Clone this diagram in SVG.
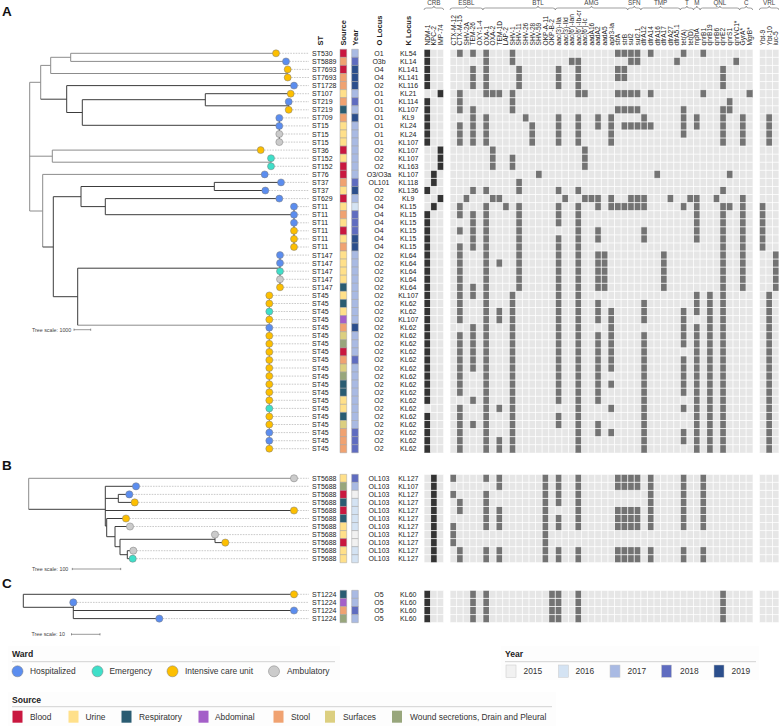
<svg xmlns="http://www.w3.org/2000/svg" width="779" height="727" viewBox="0 0 779 727">
<style>
text{font-family:"Liberation Sans",Arial,sans-serif;fill:#222}
.lab{font-size:7px}
.mid{text-anchor:middle}
.hd{font-size:7.5px;font-weight:bold}
.gn{font-size:6.6px;fill:#333}
.grp{font-size:6.3px;fill:#444;text-anchor:middle}
.pl{font-size:13.5px;font-weight:bold;fill:#111}
.sc{font-size:5.3px;fill:#444}
.lg{font-size:8.4px;fill:#333}
.lgh{font-size:8.6px;font-weight:bold;fill:#222}
.br{fill:none;stroke:#777;stroke-width:0.7}
.tg{fill:none;stroke:#8c8c8c;stroke-width:1}
.td{fill:none;stroke:#3c3c3c;stroke-width:1}
.ld{fill:none;stroke:#b3b3b3;stroke-width:0.7;stroke-dasharray:1.6 1.1}
.sbar{fill:none;stroke:#555;stroke-width:0.6}
.H{fill:#5b8def}.E{fill:#3fdfc9}.I{fill:#fdbf00}.A{fill:#cbcbcb}
.tip circle,.lgc{stroke:#7d7d7d;stroke-width:0.5}
.bg{fill:#e6e6e6}.on{fill:#737373}.dk{fill:#333}
.gr{fill:none;stroke:#fff;stroke-width:0.8;vector-effect:non-scaling-stroke}
.bl{fill:#c9173f}.ur{fill:#ffe08a}.rs{fill:#2a5c72}.ab{fill:#a45fc8}.st{fill:#f0a271}.sf{fill:#dccf80}.wd{fill:#98a67c}
.y5{fill:#f1f1f1}.y6{fill:#d4e3f3}.y7{fill:#a9bae3}.y8{fill:#5f6cc0}.y9{fill:#2b4e8c}
.cell rect{stroke:#a3a3a3;stroke-width:0.5;vector-effect:non-scaling-stroke}
.lgb{stroke:#c8c8c8;stroke-width:0.5}
.rule{stroke:#d2d2d2;stroke-width:1}
.lbg{fill:#fdfdfd}
</style>
<defs>
<path id="gA3" class="gr" d="M0 0v50m1-50v50m1-50v50m1-50v50M0 0h3m-3 1h3m-3 1h3m-3 1h3m-3 1h3m-3 1h3m-3 1h3m-3 1h3m-3 1h3m-3 1h3m-3 1h3m-3 1h3m-3 1h3m-3 1h3m-3 1h3m-3 1h3m-3 1h3m-3 1h3m-3 1h3m-3 1h3m-3 1h3m-3 1h3m-3 1h3m-3 1h3m-3 1h3m-3 1h3m-3 1h3m-3 1h3m-3 1h3m-3 1h3m-3 1h3m-3 1h3m-3 1h3m-3 1h3m-3 1h3m-3 1h3m-3 1h3m-3 1h3m-3 1h3m-3 1h3m-3 1h3m-3 1h3m-3 1h3m-3 1h3m-3 1h3m-3 1h3m-3 1h3m-3 1h3m-3 1h3m-3 1h3"/>
<path id="gA46" class="gr" d="M0 0v50m1-50v50m1-50v50m1-50v50m1-50v50m1-50v50m1-50v50m1-50v50m1-50v50m1-50v50m1-50v50m1-50v50m1-50v50m1-50v50m1-50v50m1-50v50m1-50v50m1-50v50m1-50v50m1-50v50m1-50v50m1-50v50m1-50v50m1-50v50m1-50v50m1-50v50m1-50v50m1-50v50m1-50v50m1-50v50m1-50v50m1-50v50m1-50v50m1-50v50m1-50v50m1-50v50m1-50v50m1-50v50m1-50v50m1-50v50m1-50v50m1-50v50m1-50v50m1-50v50m1-50v50m1-50v50M0 0h46m-46 1h46m-46 1h46m-46 1h46m-46 1h46m-46 1h46m-46 1h46m-46 1h46m-46 1h46m-46 1h46m-46 1h46m-46 1h46m-46 1h46m-46 1h46m-46 1h46m-46 1h46m-46 1h46m-46 1h46m-46 1h46m-46 1h46m-46 1h46m-46 1h46m-46 1h46m-46 1h46m-46 1h46m-46 1h46m-46 1h46m-46 1h46m-46 1h46m-46 1h46m-46 1h46m-46 1h46m-46 1h46m-46 1h46m-46 1h46m-46 1h46m-46 1h46m-46 1h46m-46 1h46m-46 1h46m-46 1h46m-46 1h46m-46 1h46m-46 1h46m-46 1h46m-46 1h46m-46 1h46m-46 1h46m-46 1h46m-46 1h46"/>
<path id="gB3" class="gr" d="M0 0v11m1-11v11m1-11v11m1-11v11M0 0h3m-3 1h3m-3 1h3m-3 1h3m-3 1h3m-3 1h3m-3 1h3m-3 1h3m-3 1h3m-3 1h3m-3 1h3m-3 1h3"/>
<path id="gB46" class="gr" d="M0 0v11m1-11v11m1-11v11m1-11v11m1-11v11m1-11v11m1-11v11m1-11v11m1-11v11m1-11v11m1-11v11m1-11v11m1-11v11m1-11v11m1-11v11m1-11v11m1-11v11m1-11v11m1-11v11m1-11v11m1-11v11m1-11v11m1-11v11m1-11v11m1-11v11m1-11v11m1-11v11m1-11v11m1-11v11m1-11v11m1-11v11m1-11v11m1-11v11m1-11v11m1-11v11m1-11v11m1-11v11m1-11v11m1-11v11m1-11v11m1-11v11m1-11v11m1-11v11m1-11v11m1-11v11m1-11v11M0 0h46m-46 1h46m-46 1h46m-46 1h46m-46 1h46m-46 1h46m-46 1h46m-46 1h46m-46 1h46m-46 1h46m-46 1h46m-46 1h46"/>
<path id="gC3" class="gr" d="M0 0v4m1-4v4m1-4v4m1-4v4M0 0h3m-3 1h3m-3 1h3m-3 1h3m-3 1h3"/>
<path id="gC46" class="gr" d="M0 0v4m1-4v4m1-4v4m1-4v4m1-4v4m1-4v4m1-4v4m1-4v4m1-4v4m1-4v4m1-4v4m1-4v4m1-4v4m1-4v4m1-4v4m1-4v4m1-4v4m1-4v4m1-4v4m1-4v4m1-4v4m1-4v4m1-4v4m1-4v4m1-4v4m1-4v4m1-4v4m1-4v4m1-4v4m1-4v4m1-4v4m1-4v4m1-4v4m1-4v4m1-4v4m1-4v4m1-4v4m1-4v4m1-4v4m1-4v4m1-4v4m1-4v4m1-4v4m1-4v4m1-4v4m1-4v4M0 0h46m-46 1h46m-46 1h46m-46 1h46m-46 1h46"/>
</defs>
<rect width="779" height="727" fill="#fff"/>

<g id="panel-labels">
<text class="pl" x="2" y="15.5">A</text>
<text class="pl" x="2" y="470">B</text>
<text class="pl" x="2" y="588.3">C</text>
</g>

<g id="column-headers">
<text class="hd" transform="translate(322.5,45.5) rotate(-90)">ST</text>
<text class="hd" transform="translate(346,45.5) rotate(-90)">Source</text>
<text class="hd" transform="translate(357.6,45.5) rotate(-90)">Year</text>
<text class="hd" transform="translate(382,45.5) rotate(-90)">O Locus</text>
<text class="hd" transform="translate(410.5,45.5) rotate(-90)">K Locus</text>
</g>

<g id="gene-groups">
<path class="br" d="M424,10q0,-2 2.5,-2H431.4q2.5,0 2.5,-2q0,2 2.5,2H441.2q2.5,0 2.5,2M450,10q0,-2 2.5,-2H463.9q2.5,0 2.5,-2q0,2 2.5,2H480.4q2.5,0 2.5,2M482.9,10q0,-2 2.5,-2H535.5q2.5,0 2.5,-2q0,2 2.5,2H552.8q2.5,0 2.5,2M555.3,10q0,-2 2.5,-2H589q2.5,0 2.5,-2q0,2 2.5,2H625.2q2.5,0 2.5,2M627.7,10q0,-2 2.5,-2H631.8q2.5,0 2.5,-2q0,2 2.5,2H638.4q2.5,0 2.5,2M640.9,10q0,-2 2.5,-2H658.1q2.5,0 2.5,-2q0,2 2.5,2H677.8q2.5,0 2.5,2M680.3,10q0,-2 2.5,-2H684.4q2.5,0 2.5,-2q0,2 2.5,2H691q2.5,0 2.5,2M693.5,10q0,-2 1.6,-2H695.2q1.6,0 1.6,-2q0,2 1.6,2H698.5q1.6,0 1.6,2M700.1,10q0,-2 2.5,-2H717.4q2.5,0 2.5,-2q0,2 2.5,2H737.1q2.5,0 2.5,2M739.6,10q0,-2 2.5,-2H743.7q2.5,0 2.5,-2q0,2 2.5,2H750.2q2.5,0 2.5,2M759.3,10q0,-2 2.5,-2H766.7q2.5,0 2.5,-2q0,2 2.5,2H776.5q2.5,0 2.5,2"/>
<text class="grp" x="433.9" y="5">CRB</text>
<text class="grp" x="466.4" y="5">ESBL</text>
<text class="grp" x="538" y="5">BTL</text>
<text class="grp" x="591.5" y="5">AMG</text>
<text class="grp" x="634.3" y="5">SFN</text>
<text class="grp" x="660.6" y="5">TMP</text>
<text class="grp" x="686.9" y="5">T</text>
<text class="grp" x="696.8" y="5">M</text>
<text class="grp" x="719.9" y="5">QNL</text>
<text class="grp" x="746.2" y="5">C</text>
<text class="grp" x="769.2" y="5">VRL</text>
</g>

<g id="gene-labels" class="gn" transform="rotate(-90)">
<text x="-45.5" y="429.6">NDM-1</text>
<text x="-45.5" y="436.2">KPC-2</text>
<text x="-45.5" y="442.8">IMP-74</text>
<text x="-45.5" y="455.6">CTX-M-12</text>
<text x="-45.5" y="462.2">CTX-M-15</text>
<text x="-45.5" y="468.8">SHV-2A</text>
<text x="-45.5" y="475.3">TEM-26</text>
<text x="-45.5" y="481.9">OXY-1-4</text>
<text x="-45.5" y="488.5">OXA-1</text>
<text x="-45.5" y="495.1">OXA-2</text>
<text x="-45.5" y="501.7">TEM-1D</text>
<text x="-45.5" y="508.2">LAP-2</text>
<text x="-45.5" y="514.8">SHV-1</text>
<text x="-45.5" y="521.4">SHV-11</text>
<text x="-45.5" y="528">SHV-26</text>
<text x="-45.5" y="534.6">SHV-28</text>
<text x="-45.5" y="541.1">SHV-59</text>
<text x="-45.5" y="547.7">OKP-A-11</text>
<text x="-45.5" y="554.3">OKP-B-2</text>
<text x="-45.5" y="560.9">aac(3)-IIa</text>
<text x="-45.5" y="567.5">aac(3)-IId</text>
<text x="-45.5" y="574">aac(6')-Ian</text>
<text x="-45.5" y="580.6">aac(6')-Ib-cr</text>
<text x="-45.5" y="587.2">aac(6')-Ic</text>
<text x="-45.5" y="593.8">aadA16</text>
<text x="-45.5" y="600.4">aadA2</text>
<text x="-45.5" y="606.9">aadA5</text>
<text x="-45.5" y="613.5">aph3-Ia</text>
<text x="-45.5" y="620.1">strA</text>
<text x="-45.5" y="626.7">strB</text>
<text x="-45.5" y="633.3">sul2</text>
<text x="-45.5" y="639.8">sul2.1</text>
<text x="-45.5" y="646.4">dfrA12</text>
<text x="-45.5" y="653">dfrA14</text>
<text x="-45.5" y="659.6">dfrA16</text>
<text x="-45.5" y="666.2">dfrA17</text>
<text x="-45.5" y="672.7">dfrA27</text>
<text x="-45.5" y="679.3">dfrA5.1</text>
<text x="-45.5" y="685.9">tet(A)</text>
<text x="-45.5" y="692.5">tet(D)</text>
<text x="-45.5" y="699.1">mphA</text>
<text x="-45.5" y="705.6">qnrB1</text>
<text x="-45.5" y="712.2">qnrB19</text>
<text x="-45.5" y="718.8">qnrB6</text>
<text x="-45.5" y="725.4">qnrE2</text>
<text x="-45.5" y="732">qnrS1</text>
<text x="-45.5" y="738.5">qnrVC1*</text>
<text x="-45.5" y="745.1">GyrA*</text>
<text x="-45.5" y="751.7">MgrB*</text>
<text x="-45.5" y="764.9">Ybt-9</text>
<text x="-45.5" y="771.5">Ybt-10</text>
<text x="-45.5" y="778.1">iuc-5</text>
</g>

<g id="connectors">
<path class="tg" d="M29.7,82.3V211M29.7,82.3H40.7M40.7,65.4V99.2M40.7,65.4H50.7M50.7,57.3V73.5M50.7,57.3H70.7M70.7,53.3V61.4M70.7,53.3H276M70.7,61.4H286M50.7,73.5H287.7M287.7,69.4V77.5M29.7,156.2H52.3M52.3,150.1V162.2M52.3,150.1H260.7M52.3,162.2H271M271,158.2V166.3M29.7,211H42.7M42.7,174.4V247M42.7,174.4H264.7M77.7,325.2H269.3M269.3,295.4V448.7"/>
<path class="td" d="M40.7,99.2H66.7M66.7,85.6V112.5M66.7,85.6H294M66.7,112.5H82.3M82.3,99.7V125.3M82.3,99.7H205.3M205.3,93.7V105.8M205.3,93.7H290.7M205.3,105.8H288.7M288.7,101.7V109.8M82.3,125.3H279.3M279.3,117.9V142.1M42.7,247H53.3M53.3,196.7V296.7M53.3,196.7H81M81,186.5V206.6M81,186.5H214.3M214.3,182.4V190.5M214.3,182.4H281M214.3,190.5H265.3M81,206.6H105.3M105.3,198.6V214.7M105.3,198.6H279.3M105.3,214.7H294M294,206.6V247M53.3,296.7H77.7M77.7,268.2V325.2M77.7,268.2H280M280,255.1V287.3"/>
<path class="tg" d="M28.7,478.3V509.3M28.7,478.3H294"/>
<path class="td" d="M28.7,509.3H105.3M105.3,486.3V526M105.3,486.3H136M105.3,498.4H118.3M118.3,494.4V502.4M118.3,494.4H129.3M118.3,502.4H134.7M105.3,510.5H294M105.3,526H106.7M106.7,518.5V536.7M106.7,518.5H126M106.7,536.7H115M115,526.5V546.7M115,526.5H130M115,546.7H120M120,539.3V554.7M120,539.3H215M215,534.6V542.6M215,542.6H225.3M120,554.7H127.3M127.3,550.7V558.7M127.3,550.7H133.3M127.3,558.7H132.7"/>
<path class="td" d="M23.3,594.3V607.3M23.3,594.3H294M23.3,607.3H73.3M73.3,602.4V618.6M73.3,610.5H294M73.3,618.6H159.3"/>
<path class="ld" d="M279.5 53.3H309M289.5 61.4H309M291.2 69.4H309M291.2 77.5H309M297.5 85.6H309M294.2 93.7H309M292.2 101.7H309M292.2 109.8H309M282.8 117.9H309M282.8 125.9H309M282.8 134H309M282.8 142.1H309M264.2 150.1H309M274.5 158.2H309M274.5 166.3H309M268.2 174.4H309M284.5 182.4H309M268.8 190.5H309M282.8 198.6H309M297.5 206.6H309M297.5 214.7H309M297.5 222.8H309M297.5 230.8H309M297.5 238.9H309M297.5 247H309M283.5 255.1H309M283.5 263.1H309M283.5 271.2H309M283.5 279.3H309M283.5 287.3H309M272.8 295.4H309M272.8 303.5H309M272.8 311.5H309M272.8 319.6H309M272.8 327.7H309M272.8 335.8H309M272.8 343.8H309M272.8 351.9H309M272.8 360H309M272.8 368H309M272.8 376.1H309M272.8 384.2H309M272.8 392.2H309M272.8 400.3H309M272.8 408.4H309M272.8 416.5H309M272.8 424.5H309M272.8 432.6H309M272.8 440.7H309M272.8 448.7H309M297.5 478.3H309M139.5 486.3H309M132.8 494.4H309M138.2 502.4H309M297.5 510.5H309M129.5 518.5H309M133.5 526.5H309M218.5 534.6H309M228.8 542.6H309M136.8 550.7H309M136.2 558.7H309M297.5 594.3H309M76.8 602.4H309M297.5 610.5H309M162.8 618.6H309"/>
</g>

<g id="tips" class="tip">
<circle class="I" cx="276" cy="53.3" r="3.5"/>
<circle class="H" cx="286" cy="61.4" r="3.5"/>
<circle class="I" cx="287.7" cy="69.4" r="3.5"/>
<circle class="I" cx="287.7" cy="77.5" r="3.5"/>
<circle class="H" cx="294" cy="85.6" r="3.5"/>
<circle class="I" cx="290.7" cy="93.7" r="3.5"/>
<circle class="H" cx="288.7" cy="101.7" r="3.5"/>
<circle class="I" cx="288.7" cy="109.8" r="3.5"/>
<circle class="H" cx="279.3" cy="117.9" r="3.5"/>
<circle class="H" cx="279.3" cy="125.9" r="3.5"/>
<circle class="A" cx="279.3" cy="134" r="3.5"/>
<circle class="A" cx="279.3" cy="142.1" r="3.5"/>
<circle class="I" cx="260.7" cy="150.1" r="3.5"/>
<circle class="E" cx="271" cy="158.2" r="3.5"/>
<circle class="E" cx="271" cy="166.3" r="3.5"/>
<circle class="H" cx="264.7" cy="174.4" r="3.5"/>
<circle class="H" cx="281" cy="182.4" r="3.5"/>
<circle class="H" cx="265.3" cy="190.5" r="3.5"/>
<circle class="H" cx="279.3" cy="198.6" r="3.5"/>
<circle class="H" cx="294" cy="206.6" r="3.5"/>
<circle class="H" cx="294" cy="214.7" r="3.5"/>
<circle class="H" cx="294" cy="222.8" r="3.5"/>
<circle class="I" cx="294" cy="230.8" r="3.5"/>
<circle class="I" cx="294" cy="238.9" r="3.5"/>
<circle class="I" cx="294" cy="247" r="3.5"/>
<circle class="H" cx="280" cy="255.1" r="3.5"/>
<circle class="H" cx="280" cy="263.1" r="3.5"/>
<circle class="E" cx="280" cy="271.2" r="3.5"/>
<circle class="A" cx="280" cy="279.3" r="3.5"/>
<circle class="I" cx="280" cy="287.3" r="3.5"/>
<circle class="I" cx="269.3" cy="295.4" r="3.5"/>
<circle class="I" cx="269.3" cy="303.5" r="3.5"/>
<circle class="E" cx="269.3" cy="311.5" r="3.5"/>
<circle class="I" cx="269.3" cy="319.6" r="3.5"/>
<circle class="H" cx="269.3" cy="327.7" r="3.5"/>
<circle class="I" cx="269.3" cy="335.8" r="3.5"/>
<circle class="I" cx="269.3" cy="343.8" r="3.5"/>
<circle class="I" cx="269.3" cy="351.9" r="3.5"/>
<circle class="I" cx="269.3" cy="360" r="3.5"/>
<circle class="I" cx="269.3" cy="368" r="3.5"/>
<circle class="I" cx="269.3" cy="376.1" r="3.5"/>
<circle class="I" cx="269.3" cy="384.2" r="3.5"/>
<circle class="I" cx="269.3" cy="392.2" r="3.5"/>
<circle class="I" cx="269.3" cy="400.3" r="3.5"/>
<circle class="E" cx="269.3" cy="408.4" r="3.5"/>
<circle class="I" cx="269.3" cy="416.5" r="3.5"/>
<circle class="I" cx="269.3" cy="424.5" r="3.5"/>
<circle class="H" cx="269.3" cy="432.6" r="3.5"/>
<circle class="H" cx="269.3" cy="440.7" r="3.5"/>
<circle class="I" cx="269.3" cy="448.7" r="3.5"/>
<circle class="A" cx="294" cy="478.3" r="3.6"/>
<circle class="H" cx="136" cy="486.3" r="3.6"/>
<circle class="H" cx="129.3" cy="494.4" r="3.6"/>
<circle class="I" cx="134.7" cy="502.4" r="3.6"/>
<circle class="I" cx="294" cy="510.5" r="3.6"/>
<circle class="I" cx="126" cy="518.5" r="3.6"/>
<circle class="A" cx="130" cy="526.5" r="3.6"/>
<circle class="A" cx="215" cy="534.6" r="3.6"/>
<circle class="I" cx="225.3" cy="542.6" r="3.6"/>
<circle class="A" cx="133.3" cy="550.7" r="3.6"/>
<circle class="E" cx="132.7" cy="558.7" r="3.6"/>
<circle class="I" cx="294" cy="594.3" r="3.6"/>
<circle class="H" cx="73.3" cy="602.4" r="3.6"/>
<circle class="H" cx="294" cy="610.5" r="3.6"/>
<circle class="H" cx="159.3" cy="618.6" r="3.6"/>
</g>

<g id="scales">
<text class="sc" x="32" y="331.6">Tree scale: 1000</text>
<path class="sbar" d="M74,329.7H90.7M74,328.6V330.8M90.7,328.6V330.8"/>
<text class="sc" x="32" y="570.9">Tree scale: 100</text>
<path class="sbar" d="M72.3,569H120.7M72.3,567.9V570.1M120.7,567.9V570.1"/>
<text class="sc" x="31.5" y="636.2">Tree scale: 10</text>
<path class="sbar" d="M71.5,634.3H100M71.5,633.2V635.4M100,633.2V635.4"/>
</g>

<g id="labels-A" class="lab">
<text x="312" y="55.8"><tspan x="312">ST530</tspan><tspan x="312" dy="8.07">ST5889</tspan><tspan x="312" dy="8.07">ST7693</tspan><tspan x="312" dy="8.07">ST7693</tspan><tspan x="312" dy="8.07">ST1728</tspan><tspan x="312" dy="8.07">ST107</tspan><tspan x="312" dy="8.07">ST219</tspan><tspan x="312" dy="8.07">ST219</tspan><tspan x="312" dy="8.07">ST709</tspan><tspan x="312" dy="8.07">ST15</tspan><tspan x="312" dy="8.07">ST15</tspan><tspan x="312" dy="8.07">ST15</tspan><tspan x="312" dy="8.07">ST36</tspan><tspan x="312" dy="8.07">ST152</tspan><tspan x="312" dy="8.07">ST152</tspan><tspan x="312" dy="8.07">ST76</tspan><tspan x="312" dy="8.07">ST37</tspan><tspan x="312" dy="8.07">ST37</tspan><tspan x="312" dy="8.07">ST629</tspan><tspan x="312" dy="8.07">ST11</tspan><tspan x="312" dy="8.07">ST11</tspan><tspan x="312" dy="8.07">ST11</tspan><tspan x="312" dy="8.07">ST11</tspan><tspan x="312" dy="8.07">ST11</tspan><tspan x="312" dy="8.07">ST11</tspan><tspan x="312" dy="8.07">ST147</tspan><tspan x="312" dy="8.07">ST147</tspan><tspan x="312" dy="8.07">ST147</tspan><tspan x="312" dy="8.07">ST147</tspan><tspan x="312" dy="8.07">ST147</tspan><tspan x="312" dy="8.07">ST45</tspan><tspan x="312" dy="8.07">ST45</tspan><tspan x="312" dy="8.07">ST45</tspan><tspan x="312" dy="8.07">ST45</tspan><tspan x="312" dy="8.07">ST45</tspan><tspan x="312" dy="8.07">ST45</tspan><tspan x="312" dy="8.07">ST45</tspan><tspan x="312" dy="8.07">ST45</tspan><tspan x="312" dy="8.07">ST45</tspan><tspan x="312" dy="8.07">ST45</tspan><tspan x="312" dy="8.07">ST45</tspan><tspan x="312" dy="8.07">ST45</tspan><tspan x="312" dy="8.07">ST45</tspan><tspan x="312" dy="8.07">ST45</tspan><tspan x="312" dy="8.07">ST45</tspan><tspan x="312" dy="8.07">ST45</tspan><tspan x="312" dy="8.07">ST45</tspan><tspan x="312" dy="8.07">ST45</tspan><tspan x="312" dy="8.07">ST45</tspan><tspan x="312" dy="8.07">ST45</tspan></text>
<text class="mid" x="379" y="55.8"><tspan x="379">O1</tspan><tspan x="379" dy="8.07">O3b</tspan><tspan x="379" dy="8.07">O4</tspan><tspan x="379" dy="8.07">O4</tspan><tspan x="379" dy="8.07">O2</tspan><tspan x="379" dy="8.07">O1</tspan><tspan x="379" dy="8.07">O1</tspan><tspan x="379" dy="8.07">O1</tspan><tspan x="379" dy="8.07">O1</tspan><tspan x="379" dy="8.07">O1</tspan><tspan x="379" dy="8.07">O1</tspan><tspan x="379" dy="8.07">O1</tspan><tspan x="379" dy="8.07">O2</tspan><tspan x="379" dy="8.07">O2</tspan><tspan x="379" dy="8.07">O2</tspan><tspan x="379" dy="8.07">O3/O3a</tspan><tspan x="379" dy="8.07">OL101</tspan><tspan x="379" dy="8.07">O2</tspan><tspan x="379" dy="8.07">O2</tspan><tspan x="379" dy="8.07">O4</tspan><tspan x="379" dy="8.07">O4</tspan><tspan x="379" dy="8.07">O4</tspan><tspan x="379" dy="8.07">O4</tspan><tspan x="379" dy="8.07">O4</tspan><tspan x="379" dy="8.07">O4</tspan><tspan x="379" dy="8.07">O2</tspan><tspan x="379" dy="8.07">O2</tspan><tspan x="379" dy="8.07">O2</tspan><tspan x="379" dy="8.07">O2</tspan><tspan x="379" dy="8.07">O2</tspan><tspan x="379" dy="8.07">O2</tspan><tspan x="379" dy="8.07">O2</tspan><tspan x="379" dy="8.07">O2</tspan><tspan x="379" dy="8.07">O2</tspan><tspan x="379" dy="8.07">O2</tspan><tspan x="379" dy="8.07">O2</tspan><tspan x="379" dy="8.07">O2</tspan><tspan x="379" dy="8.07">O2</tspan><tspan x="379" dy="8.07">O2</tspan><tspan x="379" dy="8.07">O2</tspan><tspan x="379" dy="8.07">O2</tspan><tspan x="379" dy="8.07">O2</tspan><tspan x="379" dy="8.07">O2</tspan><tspan x="379" dy="8.07">O2</tspan><tspan x="379" dy="8.07">O2</tspan><tspan x="379" dy="8.07">O2</tspan><tspan x="379" dy="8.07">O2</tspan><tspan x="379" dy="8.07">O2</tspan><tspan x="379" dy="8.07">O2</tspan><tspan x="379" dy="8.07">O2</tspan></text>
<text class="mid" x="408.3" y="55.8"><tspan x="408.3">KL54</tspan><tspan x="408.3" dy="8.07">KL14</tspan><tspan x="408.3" dy="8.07">KL141</tspan><tspan x="408.3" dy="8.07">KL141</tspan><tspan x="408.3" dy="8.07">KL116</tspan><tspan x="408.3" dy="8.07">KL21</tspan><tspan x="408.3" dy="8.07">KL114</tspan><tspan x="408.3" dy="8.07">KL107</tspan><tspan x="408.3" dy="8.07">KL9</tspan><tspan x="408.3" dy="8.07">KL24</tspan><tspan x="408.3" dy="8.07">KL24</tspan><tspan x="408.3" dy="8.07">KL107</tspan><tspan x="408.3" dy="8.07">KL107</tspan><tspan x="408.3" dy="8.07">KL107</tspan><tspan x="408.3" dy="8.07">KL163</tspan><tspan x="408.3" dy="8.07">KL107</tspan><tspan x="408.3" dy="8.07">KL118</tspan><tspan x="408.3" dy="8.07">KL136</tspan><tspan x="408.3" dy="8.07">KL9</tspan><tspan x="408.3" dy="8.07">KL15</tspan><tspan x="408.3" dy="8.07">KL15</tspan><tspan x="408.3" dy="8.07">KL15</tspan><tspan x="408.3" dy="8.07">KL15</tspan><tspan x="408.3" dy="8.07">KL15</tspan><tspan x="408.3" dy="8.07">KL15</tspan><tspan x="408.3" dy="8.07">KL64</tspan><tspan x="408.3" dy="8.07">KL64</tspan><tspan x="408.3" dy="8.07">KL64</tspan><tspan x="408.3" dy="8.07">KL64</tspan><tspan x="408.3" dy="8.07">KL64</tspan><tspan x="408.3" dy="8.07">KL107</tspan><tspan x="408.3" dy="8.07">KL62</tspan><tspan x="408.3" dy="8.07">KL62</tspan><tspan x="408.3" dy="8.07">KL107</tspan><tspan x="408.3" dy="8.07">KL62</tspan><tspan x="408.3" dy="8.07">KL62</tspan><tspan x="408.3" dy="8.07">KL62</tspan><tspan x="408.3" dy="8.07">KL62</tspan><tspan x="408.3" dy="8.07">KL62</tspan><tspan x="408.3" dy="8.07">KL62</tspan><tspan x="408.3" dy="8.07">KL62</tspan><tspan x="408.3" dy="8.07">KL62</tspan><tspan x="408.3" dy="8.07">KL62</tspan><tspan x="408.3" dy="8.07">KL62</tspan><tspan x="408.3" dy="8.07">KL62</tspan><tspan x="408.3" dy="8.07">KL62</tspan><tspan x="408.3" dy="8.07">KL62</tspan><tspan x="408.3" dy="8.07">KL62</tspan><tspan x="408.3" dy="8.07">KL62</tspan><tspan x="408.3" dy="8.07">KL62</tspan></text>
</g>

<g id="labels-B" class="lab">
<text x="312" y="480.8"><tspan x="312">ST5688</tspan><tspan x="312" dy="8.04">ST5688</tspan><tspan x="312" dy="8.04">ST5688</tspan><tspan x="312" dy="8.04">ST5688</tspan><tspan x="312" dy="8.04">ST5688</tspan><tspan x="312" dy="8.04">ST5688</tspan><tspan x="312" dy="8.04">ST5688</tspan><tspan x="312" dy="8.04">ST5688</tspan><tspan x="312" dy="8.04">ST5688</tspan><tspan x="312" dy="8.04">ST5688</tspan><tspan x="312" dy="8.04">ST5688</tspan></text>
<text class="mid" x="379" y="480.8"><tspan x="379">OL103</tspan><tspan x="379" dy="8.04">OL103</tspan><tspan x="379" dy="8.04">OL103</tspan><tspan x="379" dy="8.04">OL103</tspan><tspan x="379" dy="8.04">OL103</tspan><tspan x="379" dy="8.04">OL103</tspan><tspan x="379" dy="8.04">OL103</tspan><tspan x="379" dy="8.04">OL103</tspan><tspan x="379" dy="8.04">OL103</tspan><tspan x="379" dy="8.04">OL103</tspan><tspan x="379" dy="8.04">OL103</tspan></text>
<text class="mid" x="408.3" y="480.8"><tspan x="408.3">KL127</tspan><tspan x="408.3" dy="8.04">KL107</tspan><tspan x="408.3" dy="8.04">KL127</tspan><tspan x="408.3" dy="8.04">KL127</tspan><tspan x="408.3" dy="8.04">KL127</tspan><tspan x="408.3" dy="8.04">KL127</tspan><tspan x="408.3" dy="8.04">KL127</tspan><tspan x="408.3" dy="8.04">KL127</tspan><tspan x="408.3" dy="8.04">KL127</tspan><tspan x="408.3" dy="8.04">KL127</tspan><tspan x="408.3" dy="8.04">KL127</tspan></text>
</g>

<g id="labels-C" class="lab">
<text x="312" y="596.8"><tspan x="312">ST1224</tspan><tspan x="312" dy="8.1">ST1224</tspan><tspan x="312" dy="8.1">ST1224</tspan><tspan x="312" dy="8.1">ST1224</tspan></text>
<text class="mid" x="379" y="596.8"><tspan x="379">O5</tspan><tspan x="379" dy="8.1">O5</tspan><tspan x="379" dy="8.1">O5</tspan><tspan x="379" dy="8.1">O5</tspan></text>
<text class="mid" x="408.3" y="596.8"><tspan x="408.3">KL60</tspan><tspan x="408.3" dy="8.1">KL60</tspan><tspan x="408.3" dy="8.1">KL60</tspan><tspan x="408.3" dy="8.1">KL60</tspan></text>
</g>

<g id="source-A" class="cell" transform="translate(340,49.27) scale(1,8.07)">
<rect class="bl" y="0" width="6.7" height="1"/><rect class="st" y="1" width="6.7" height="1"/><rect class="bl" y="2" width="6.7" height="1"/><rect class="st" y="3" width="6.7" height="1"/><rect class="st" y="4" width="6.7" height="1"/><rect class="ur" y="5" width="6.7" height="1"/><rect class="st" y="6" width="6.7" height="1"/><rect class="rs" y="7" width="6.7" height="1"/><rect class="st" y="8" width="6.7" height="1"/><rect class="ur" y="9" width="6.7" height="1"/><rect class="ur" y="10" width="6.7" height="1"/><rect class="ur" y="11" width="6.7" height="1"/><rect class="bl" y="12" width="6.7" height="1"/><rect class="ur" y="13" width="6.7" height="1"/><rect class="bl" y="14" width="6.7" height="1"/><rect class="bl" y="15" width="6.7" height="1"/><rect class="st" y="16" width="6.7" height="1"/><rect class="ur" y="17" width="6.7" height="1"/><rect class="bl" y="18" width="6.7" height="1"/><rect class="ur" y="19" width="6.7" height="1"/><rect class="st" y="20" width="6.7" height="1"/><rect class="ur" y="21" width="6.7" height="1"/><rect class="bl" y="22" width="6.7" height="1"/><rect class="ur" y="23" width="6.7" height="1"/><rect class="st" y="24" width="6.7" height="1"/><rect class="ur" y="25" width="6.7" height="1"/><rect class="ur" y="26" width="6.7" height="1"/><rect class="ur" y="27" width="6.7" height="1"/><rect class="ur" y="28" width="6.7" height="1"/><rect class="rs" y="29" width="6.7" height="1"/><rect class="ur" y="30" width="6.7" height="1"/><rect class="rs" y="31" width="6.7" height="1"/><rect class="ur" y="32" width="6.7" height="1"/><rect class="ab" y="33" width="6.7" height="1"/><rect class="st" y="34" width="6.7" height="1"/><rect class="sf" y="35" width="6.7" height="1"/><rect class="wd" y="36" width="6.7" height="1"/><rect class="bl" y="37" width="6.7" height="1"/><rect class="st" y="38" width="6.7" height="1"/><rect class="sf" y="39" width="6.7" height="1"/><rect class="wd" y="40" width="6.7" height="1"/><rect class="rs" y="41" width="6.7" height="1"/><rect class="rs" y="42" width="6.7" height="1"/><rect class="ur" y="43" width="6.7" height="1"/><rect class="ur" y="44" width="6.7" height="1"/><rect class="rs" y="45" width="6.7" height="1"/><rect class="sf" y="46" width="6.7" height="1"/><rect class="st" y="47" width="6.7" height="1"/><rect class="st" y="48" width="6.7" height="1"/><rect class="st" y="49" width="6.7" height="1"/>
</g>
<g id="year-A" class="cell" transform="translate(351.7,49.27) scale(1,8.07)">
<rect class="y7" y="0" width="6.6" height="1"/><rect class="y8" y="1" width="6.6" height="1"/><rect class="y9" y="2" width="6.6" height="1"/><rect class="y9" y="3" width="6.6" height="1"/><rect class="y9" y="4" width="6.6" height="1"/><rect class="y7" y="5" width="6.6" height="1"/><rect class="y8" y="6" width="6.6" height="1"/><rect class="y7" y="7" width="6.6" height="1"/><rect class="y9" y="8" width="6.6" height="1"/><rect class="y7" y="9" width="6.6" height="1"/><rect class="y7" y="10" width="6.6" height="1"/><rect class="y7" y="11" width="6.6" height="1"/><rect class="y7" y="12" width="6.6" height="1"/><rect class="y7" y="13" width="6.6" height="1"/><rect class="y7" y="14" width="6.6" height="1"/><rect class="y7" y="15" width="6.6" height="1"/><rect class="y8" y="16" width="6.6" height="1"/><rect class="y9" y="17" width="6.6" height="1"/><rect class="y7" y="18" width="6.6" height="1"/><rect class="y6" y="19" width="6.6" height="1"/><rect class="y8" y="20" width="6.6" height="1"/><rect class="y8" y="21" width="6.6" height="1"/><rect class="y8" y="22" width="6.6" height="1"/><rect class="y9" y="23" width="6.6" height="1"/><rect class="y9" y="24" width="6.6" height="1"/><rect class="y7" y="25" width="6.6" height="1"/><rect class="y7" y="26" width="6.6" height="1"/><rect class="y7" y="27" width="6.6" height="1"/><rect class="y7" y="28" width="6.6" height="1"/><rect class="y7" y="29" width="6.6" height="1"/><rect class="y7" y="30" width="6.6" height="1"/><rect class="y7" y="31" width="6.6" height="1"/><rect class="y7" y="32" width="6.6" height="1"/><rect class="y7" y="33" width="6.6" height="1"/><rect class="y9" y="34" width="6.6" height="1"/><rect class="y7" y="35" width="6.6" height="1"/><rect class="y7" y="36" width="6.6" height="1"/><rect class="y7" y="37" width="6.6" height="1"/><rect class="y8" y="38" width="6.6" height="1"/><rect class="y7" y="39" width="6.6" height="1"/><rect class="y7" y="40" width="6.6" height="1"/><rect class="y7" y="41" width="6.6" height="1"/><rect class="y7" y="42" width="6.6" height="1"/><rect class="y7" y="43" width="6.6" height="1"/><rect class="y7" y="44" width="6.6" height="1"/><rect class="y7" y="45" width="6.6" height="1"/><rect class="y7" y="46" width="6.6" height="1"/><rect class="y8" y="47" width="6.6" height="1"/><rect class="y8" y="48" width="6.6" height="1"/><rect class="y8" y="49" width="6.6" height="1"/>
</g>
<g id="source-B" class="cell" transform="translate(340,474.3) scale(1,8.04)">
<rect class="ur" y="0" width="6.7" height="1"/><rect class="wd" y="1" width="6.7" height="1"/><rect class="bl" y="2" width="6.7" height="1"/><rect class="rs" y="3" width="6.7" height="1"/><rect class="bl" y="4" width="6.7" height="1"/><rect class="rs" y="5" width="6.7" height="1"/><rect class="ur" y="6" width="6.7" height="1"/><rect class="ur" y="7" width="6.7" height="1"/><rect class="bl" y="8" width="6.7" height="1"/><rect class="ur" y="9" width="6.7" height="1"/><rect class="ur" y="10" width="6.7" height="1"/>
</g>
<g id="year-B" class="cell" transform="translate(351.7,474.3) scale(1,8.04)">
<rect class="y8" y="0" width="6.6" height="1"/><rect class="y7" y="1" width="6.6" height="1"/><rect class="y5" y="2" width="6.6" height="1"/><rect class="y6" y="3" width="6.6" height="1"/><rect class="y6" y="4" width="6.6" height="1"/><rect class="y6" y="5" width="6.6" height="1"/><rect class="y6" y="6" width="6.6" height="1"/><rect class="y5" y="7" width="6.6" height="1"/><rect class="y5" y="8" width="6.6" height="1"/><rect class="y6" y="9" width="6.6" height="1"/><rect class="y6" y="10" width="6.6" height="1"/>
</g>
<g id="source-C" class="cell" transform="translate(340,590.3) scale(1,8.1)">
<rect class="rs" y="0" width="6.7" height="1"/><rect class="ab" y="1" width="6.7" height="1"/><rect class="st" y="2" width="6.7" height="1"/><rect class="wd" y="3" width="6.7" height="1"/>
</g>
<g id="year-C" class="cell" transform="translate(351.7,590.3) scale(1,8.1)">
<rect class="y7" y="0" width="6.6" height="1"/><rect class="y7" y="1" width="6.6" height="1"/><rect class="y8" y="2" width="6.6" height="1"/><rect class="y7" y="3" width="6.6" height="1"/>
</g>

<g id="heatmap-A">
<g transform="translate(424,49.27) scale(6.58,8.07)"><rect class="bg" width="3" height="50"/><path class="dk" d="M0 0h1v5h-1zM0 6h1v6h-1zM0 17h1v1h-1zM0 20h1v24h-1zM0 45h1v5h-1zM1 15h1v2h-1zM1 19h1v1h-1zM2 5h1v1h-1zM2 12h1v3h-1zM2 18h1v1h-1z"/><use href="#gA3"/></g>
<g transform="translate(450,49.27) scale(6.58,8.07)"><rect class="bg" width="46" height="50"/><path class="on" d="M1 0h1v1h-1zM3 0h1v1h-1zM5 0h1v1h-1zM9 0h1v1h-1zM25 0h4v1h-4zM30 0h1v1h-1zM35 0h1v1h-1zM38 0h1v1h-1zM5 1h1v1h-1zM9 1h1v1h-1zM18 1h2v1h-2zM27 1h2v1h-2zM34 1h1v1h-1zM43 1h1v1h-1zM3 2h1v1h-1zM5 2h1v1h-1zM10 2h1v1h-1zM16 2h1v1h-1zM19 2h1v1h-1zM25 2h2v1h-2zM41 2h1v1h-1zM3 3h1v1h-1zM5 3h1v1h-1zM10 3h1v1h-1zM16 3h1v1h-1zM19 3h1v1h-1zM25 3h2v1h-2zM41 3h1v1h-1zM3 4h1v1h-1zM5 4h1v1h-1zM10 4h1v1h-1zM16 4h1v1h-1zM19 4h1v1h-1zM41 4h1v1h-1zM1 5h1v1h-1zM5 5h3v1h-3zM9 5h1v1h-1zM19 5h2v1h-2zM25 5h4v1h-4zM30 5h1v1h-1zM38 5h1v1h-1zM45 5h1v1h-1zM1 6h1v1h-1zM9 6h1v1h-1zM42 6h1v1h-1zM1 7h1v1h-1zM3 7h1v1h-1zM9 7h1v1h-1zM25 7h4v1h-4zM35 7h1v1h-1zM41 7h2v1h-2zM3 8h1v1h-1zM5 8h1v1h-1zM11 8h1v1h-1zM16 8h1v1h-1zM19 8h1v1h-1zM22 8h1v1h-1zM24 8h1v1h-1zM29 8h1v1h-1zM35 8h1v1h-1zM37 8h1v1h-1zM41 8h1v1h-1zM44 8h1v1h-1zM1 9h1v1h-1zM3 9h1v1h-1zM5 9h1v1h-1zM12 9h1v1h-1zM16 9h1v1h-1zM19 9h1v1h-1zM22 9h1v1h-1zM24 9h1v1h-1zM26 9h5v1h-5zM35 9h1v1h-1zM37 9h1v1h-1zM41 9h1v1h-1zM44 9h1v1h-1zM1 10h1v1h-1zM3 10h1v1h-1zM5 10h1v1h-1zM12 10h1v1h-1zM16 10h1v1h-1zM19 10h1v1h-1zM24 10h1v1h-1zM35 10h1v1h-1zM41 10h1v1h-1zM44 10h1v1h-1zM1 11h1v1h-1zM3 11h1v1h-1zM5 11h1v1h-1zM12 11h1v1h-1zM16 11h1v1h-1zM19 11h1v1h-1zM24 11h1v1h-1zM41 11h1v1h-1zM44 11h1v1h-1zM6 12h1v3h-1zM20 12h1v3h-1zM9 13h1v2h-1zM13 15h1v1h-1zM31 15h1v1h-1zM42 15h1v1h-1zM10 16h1v1h-1zM3 17h1v1h-1zM5 17h1v1h-1zM10 17h1v1h-1zM16 17h1v1h-1zM19 17h1v1h-1zM41 17h1v1h-1zM2 18h1v1h-1zM6 18h2v1h-2zM17 18h1v1h-1zM20 18h3v1h-3zM24 18h1v1h-1zM27 18h3v1h-3zM33 18h1v1h-1zM36 18h2v1h-2zM40 18h1v1h-1zM44 18h1v1h-1zM1 19h1v1h-1zM5 19h1v1h-1zM8 19h1v1h-1zM10 19h1v1h-1zM16 19h1v1h-1zM19 19h1v1h-1zM22 19h1v1h-1zM24 19h6v1h-6zM35 19h1v1h-1zM37 19h1v1h-1zM41 19h2v1h-2zM44 19h1v1h-1zM1 20h1v1h-1zM3 20h1v1h-1zM5 20h1v1h-1zM10 20h1v1h-1zM16 20h1v1h-1zM19 20h1v1h-1zM37 20h1v1h-1zM41 20h1v1h-1zM44 20h1v1h-1zM3 21h1v1h-1zM5 21h1v1h-1zM10 21h1v1h-1zM16 21h1v1h-1zM19 21h1v1h-1zM37 21h1v1h-1zM41 21h1v1h-1zM44 21h1v1h-1zM1 22h1v1h-1zM3 22h1v1h-1zM5 22h1v1h-1zM10 22h1v1h-1zM19 22h1v1h-1zM22 22h1v1h-1zM29 22h1v1h-1zM37 22h1v1h-1zM41 22h1v1h-1zM44 22h1v1h-1zM3 23h1v1h-1zM5 23h1v1h-1zM10 23h1v1h-1zM16 23h1v1h-1zM19 23h1v1h-1zM22 23h1v1h-1zM29 23h1v1h-1zM37 23h1v1h-1zM41 23h1v1h-1zM44 23h1v1h-1zM1 24h1v1h-1zM3 24h1v1h-1zM5 24h1v1h-1zM10 24h1v1h-1zM16 24h1v1h-1zM19 24h1v1h-1zM41 24h1v1h-1zM44 24h1v1h-1zM1 25h1v5h-1zM5 25h1v5h-1zM10 25h1v5h-1zM16 25h1v5h-1zM19 25h1v5h-1zM22 25h2v5h-2zM32 25h1v5h-1zM41 25h1v5h-1zM44 25h1v5h-1zM7 26h1v1h-1zM3 29h1v1h-1zM5 30h1v20h-1zM9 30h1v20h-1zM19 30h1v20h-1zM39 30h1v20h-1zM41 30h1v20h-1zM1 30h1v4h-1zM1 35h1v8h-1zM1 44h1v6h-1zM3 30h1v1h-1zM3 34h1v6h-1zM3 43h1v1h-1zM3 46h1v1h-1zM7 32h1v2h-1zM7 44h1v1h-1zM7 48h1v2h-1zM16 30h1v14h-1zM16 45h1v2h-1zM22 31h1v3h-1zM22 35h1v9h-1zM22 46h1v2h-1zM24 32h1v8h-1zM24 41h1v1h-1zM24 44h1v1h-1zM24 47h1v1h-1zM29 31h1v3h-1zM29 35h1v15h-1zM35 32h1v5h-1zM35 38h1v5h-1zM35 44h1v1h-1zM35 47h1v2h-1zM37 30h1v3h-1zM37 34h1v16h-1z"/><use href="#gA46"/></g>
<g transform="translate(759.3,49.27) scale(6.58,8.07)"><rect class="bg" width="3" height="50"/><path class="on" d="M1 8h1v4h-1zM0 19h1v6h-1zM2 25h1v5h-1zM1 30h1v20h-1z"/><use href="#gA3"/></g>
</g>

<g id="heatmap-B">
<g transform="translate(424,474.3) scale(6.58,8.04)"><rect class="bg" width="3" height="11"/><path class="dk" d="M1 0h1v11h-1z"/><use href="#gB3"/></g>
<g transform="translate(450,474.3) scale(6.58,8.04)"><rect class="bg" width="46" height="11"/><path class="on" d="M0 0h1v1h-1zM0 2h1v1h-1zM0 6h1v3h-1zM1 3h1v2h-1zM1 9h1v2h-1zM5 0h1v1h-1zM5 2h1v5h-1zM5 9h1v2h-1zM7 0h1v2h-1zM7 4h1v3h-1zM7 9h1v2h-1zM14 0h1v11h-1zM16 0h1v4h-1zM16 5h1v2h-1zM16 9h1v2h-1zM19 0h1v7h-1zM19 9h1v2h-1zM25 0h4v2h-4zM25 4h4v3h-4zM25 9h4v2h-4zM30 0h1v7h-1zM30 9h1v2h-1zM35 0h1v7h-1zM35 9h1v2h-1zM38 0h1v7h-1zM38 9h1v2h-1z"/><use href="#gB46"/></g>
<g transform="translate(759.3,474.3) scale(6.58,8.04)"><rect class="bg" width="3" height="11"/><use href="#gB3"/></g>
</g>

<g id="heatmap-C">
<g transform="translate(424,590.3) scale(6.58,8.1)"><rect class="bg" width="3" height="4"/><path class="dk" d="M0 0h1v4h-1z"/><use href="#gC3"/></g>
<g transform="translate(450,590.3) scale(6.58,8.1)"><rect class="bg" width="46" height="4"/><path class="on" d="M3 0h1v4h-1zM5 0h1v4h-1zM15 0h2v4h-2zM19 0h1v4h-1zM41 0h1v4h-1z"/><use href="#gC46"/></g>
<g transform="translate(759.3,590.3) scale(6.58,8.1)"><rect class="bg" width="3" height="4"/><use href="#gC3"/></g>
</g>

<g id="legend-ward">
<rect class="lbg" x="8" y="646" width="332" height="34"/>
<text class="lgh" x="12" y="657">Ward</text>
<path class="rule" d="M12 661.7H335"/>
<circle class="H lgc" cx="17.5" cy="671.3" r="5.5"/>
<text class="lg" x="30" y="674.3">Hospitalized</text>
<circle class="E lgc" cx="97.5" cy="671.3" r="5.5"/>
<text class="lg" x="109.5" y="674.3">Emergency</text>
<circle class="I lgc" cx="172.5" cy="671.3" r="5.5"/>
<text class="lg" x="185" y="674.3">Intensive care unit</text>
<circle class="A lgc" cx="274" cy="671.3" r="5.5"/>
<text class="lg" x="287" y="674.3">Ambulatory</text>
</g>

<g id="legend-year">
<rect class="lbg" x="501" y="646" width="258" height="34"/>
<text class="lgh" x="505" y="657">Year</text>
<path class="rule" d="M505 661.7H756"/>
<rect class="y5 lgb" x="506" y="665" width="10" height="12.3"/>
<text class="lg" x="523.5" y="674.3">2015</text>
<rect class="y6 lgb" x="558.5" y="665" width="10" height="12.3"/>
<text class="lg" x="575.5" y="674.3">2016</text>
<rect class="y7 lgb" x="610" y="665" width="10" height="12.3"/>
<text class="lg" x="627.5" y="674.3">2017</text>
<rect class="y8 lgb" x="661.5" y="665" width="10" height="12.3"/>
<text class="lg" x="680" y="674.3">2018</text>
<rect class="y9 lgb" x="714" y="665" width="10" height="12.3"/>
<text class="lg" x="731.5" y="674.3">2019</text>
</g>

<g id="legend-source">
<rect class="lbg" x="8" y="692" width="548" height="34"/>
<text class="lgh" x="12" y="703">Source</text>
<path class="rule" d="M12 706.7H552"/>
<rect class="bl" x="12.5" y="710.7" width="10" height="12"/>
<text class="lg" x="30" y="719.7">Blood</text>
<rect class="ur" x="68.5" y="710.7" width="10" height="12"/>
<text class="lg" x="85.5" y="719.7">Urine</text>
<rect class="rs" x="121.5" y="710.7" width="10" height="12"/>
<text class="lg" x="139" y="719.7">Respiratory</text>
<rect class="ab" x="198.5" y="710.7" width="10" height="12"/>
<text class="lg" x="215" y="719.7">Abdominal</text>
<rect class="st" x="273.5" y="710.7" width="10" height="12"/>
<text class="lg" x="291" y="719.7">Stool</text>
<rect class="sf" x="325" y="710.7" width="10" height="12"/>
<text class="lg" x="343" y="719.7">Surfaces</text>
<rect class="wd" x="392" y="710.7" width="10" height="12"/>
<text class="lg" x="410" y="719.7">Wound secretions, Drain and Pleural</text>
</g>
</svg>
